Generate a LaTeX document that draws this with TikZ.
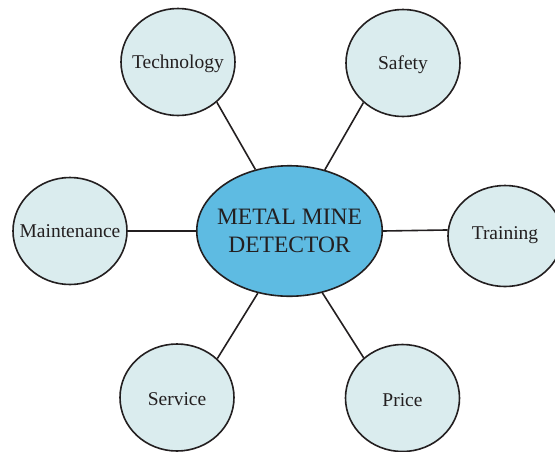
\documentclass[tikz,border=0pt]{standalone}
\usepackage{fontspec}
\setmainfont{Liberation Serif}
\usetikzlibrary{shapes.geometric}
\definecolor{pale}{HTML}{DAECEE}
\definecolor{core}{HTML}{5EBBE2}
\definecolor{ink}{HTML}{231F20}
\newcommand{\zw}[1]{\makebox[0pt]{#1}}
\begin{document}
\begin{tikzpicture}[x=1pt,y=-1pt,
  topic/.style={ellipse, draw=ink, line width=1.6pt, fill=pale, minimum width=114pt, minimum height=107pt, inner sep=0pt, text height=13pt, text depth=0pt, font=\fontsize{19.5}{22}\selectfont, text=ink},
  hub/.style={ellipse, draw=ink, line width=1.6pt, fill=core, minimum width=185.5pt, minimum height=130.5pt, inner sep=0pt, align=center, font=\fontsize{23.5}{27.5}\selectfont, text=ink},
  link/.style={draw=ink, line width=1.6pt}]
\useasboundingbox (0,0) rectangle (555,451);
\node[hub] (hub) at (289.5,231) {\zw{METAL MINE}\\\zw{DETECTOR}};
\node[topic] (tech) at (178,62) {\zw{Technology}};
\node[topic] (safety) at (403,63) {\zw{Safety}};
\node[topic] (maint) at (70,231) {\zw{Maintenance}};
\node[topic, minimum height=101pt] (train) at (505,236) {\zw{\raisebox{3pt}{Training}}};
\node[topic] (service) at (177,397.5) {\zw{\raisebox{-1.5pt}{Service}}};
\node[topic] (price) at (402.5,398) {\zw{\raisebox{-1.5pt}{Price}}};
\draw[link] (tech.-46) -- (hub.119);
\draw[link] (safety.225) -- (hub.60.5);
\draw[link] (maint.east) -- (hub.west);
\draw[link] (hub.east) -- (train.174.5);
\draw[link] (service.44) -- (hub.243);
\draw[link] (price.134) -- (hub.-62);
\end{tikzpicture}
\end{document}
